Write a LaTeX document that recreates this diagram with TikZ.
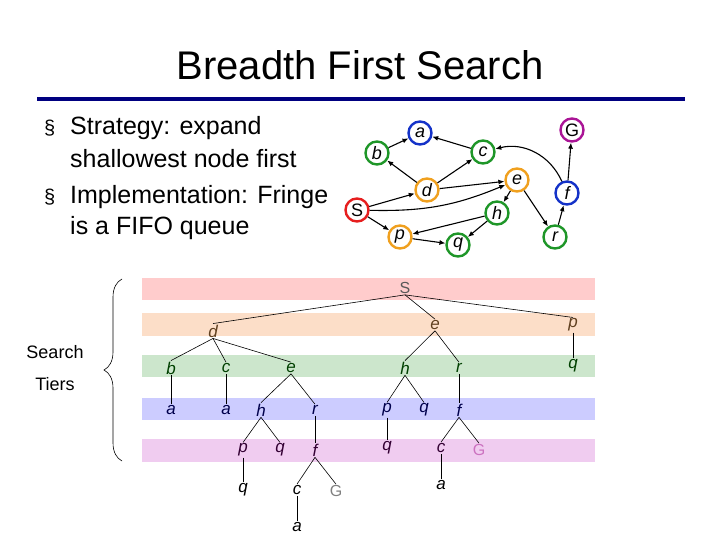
\documentclass[tikz,border=0pt]{standalone}
\usepackage{fontspec}
\setmainfont{Liberation Sans}
\usetikzlibrary{arrows.meta,decorations.pathreplacing}

\definecolor{navy}{RGB}{0,0,128}
\definecolor{gblue}{RGB}{20,50,200}
\definecolor{ggreen}{RGB}{30,150,40}
\definecolor{gorange}{RGB}{240,160,30}
\definecolor{gred}{RGB}{230,30,30}
\definecolor{gmag}{RGB}{170,20,150}
\definecolor{bandS}{RGB}{255,204,204}
\definecolor{bandO}{RGB}{252,222,200}
\definecolor{bandG}{RGB}{204,230,204}
\definecolor{bandB}{RGB}{204,204,255}
\definecolor{bandP}{RGB}{240,204,240}

\begin{document}
\begin{tikzpicture}[
        x=1pt, y=-1pt,
        gnode/.style={circle, draw=#1, line width=2.4pt, fill=white, minimum size=23pt,
            inner sep=0, font=\fontsize{18}{18}\selectfont\itshape},
        garrow/.style={-{Latex[length=6pt,width=5pt]}, line width=1.1pt},
        tnode/.style={inner sep=1pt, font=\fontsize{17}{17}\selectfont\itshape, text=#1},
        tedge/.style={line width=0.6pt},
        band/.style={fill=#1, draw=none}
    ]
    \useasboundingbox (0,0) rectangle (720,540);

    % titel en regel
    \node (title) at (360,65) {\fontsize{40}{40}\selectfont Breadth First Search};
    \fill[navy] (37,97) rectangle (685,101);

    % tekst
    \begin{scope}[every node/.style={anchor=west, inner sep=0, font=\fontsize{25}{25}\selectfont}]
        \node (b1) at (44,128) {\fontsize{20}{20}\selectfont\S};
        \node (l1) at (70,128) {Strategy: expand};
        \node (l2) at (70,159) {shallowest node first};
        \node (b2) at (44,197) {\fontsize{20}{20}\selectfont\S};
        \node (l3) at (70,197) {Implementation: Fringe};
        \node (l4) at (70,228) {is a FIFO queue};
    \end{scope}

    % graaf
    \node[gnode=gblue] (a) at (420,133) {a};
    \node[gnode=ggreen] (b) at (377,153) {b};
    \node[gnode=ggreen] (c) at (483,152) {c};
    \node[gnode=gmag] (G) at (572,130) {\upshape G};
    \node[gnode=gorange] (d) at (427,190) {d};
    \node[gnode=gorange] (e) at (517,180) {e};
    \node[gnode=gblue] (f) at (567,193) {f};
    \node[gnode=gred] (S) at (357,210) {\upshape S};
    \node[gnode=ggreen] (h) at (497,213) {h};
    \node[gnode=gorange] (p) at (400,237) {p};
    \node[gnode=ggreen] (q) at (458,245) {q};
    \node[gnode=ggreen] (r) at (555,237) {r};

    \draw[garrow] (b) -- (a);
    \draw[garrow] (c) -- (a);
    \draw[garrow] (d) -- (b);
    \draw[garrow] (d) -- (c);
    \draw[garrow] (d) -- (e);
    \draw[garrow] (S) -- (d);
    \draw[garrow] (S) to[bend right=12] (e);
    \draw[garrow] (S) -- (p);
    \draw[garrow] (e) -- (h);
    \draw[garrow] (e) -- (r);
    \draw[garrow] (h) -- (p);
    \draw[garrow] (h) -- (q);
    \draw[garrow] (p) -- (q);
    \draw[garrow] (r) -- (f);
    \draw[garrow] (f) -- (G);
    \draw[garrow] (f) to[bend right=40] (c);

    % lagen
    \fill[band=bandS] (142,278) rectangle (595,300);
    \fill[band=bandO] (142,313) rectangle (595,336);
    \fill[band=bandG] (142,355) rectangle (595,377);
    \fill[band=bandB] (142,398) rectangle (595,420);
    \fill[band=bandP] (142,439) rectangle (595,462);

    \node[font=\fontsize{18}{18}\selectfont] (search) at (55,352) {Search};
    \node[font=\fontsize{18}{18}\selectfont] (tiers) at (55,384) {Tiers};
    \draw[decorate, decoration={brace, amplitude=18pt}, line width=0.6pt]
        (122,461) -- (122,279);

    % boom
    \node[tnode=gray!70!black, font=\fontsize{16}{16}\selectfont] (t) at (405,288) {S};
    \node[tnode=brown!50!black] (td) at (213,331) {d};
    \node[tnode=brown!50!black] (te) at (435,325) {e};
    \node[tnode=brown!50!black] (tp) at (573,325) {p};

    \node[tnode=green!25!black] (tdb) at (171,368) {b};
    \node[tnode=green!25!black] (tdc) at (226,368) {c};
    \node[tnode=green!25!black] (tde) at (291,368) {e};
    \node[tnode=green!25!black] (teh) at (405,368) {h};
    \node[tnode=green!25!black] (ter) at (459,368) {r};
    \node[tnode=green!25!black] (tpq) at (573,366) {q};

    \node[tnode=blue!30!black] (tdba) at (171,410) {a};
    \node[tnode=blue!30!black] (tdca) at (226,410) {a};
    \node[tnode=blue!30!black] (tdeh) at (261,410) {h};
    \node[tnode=blue!30!black] (tder) at (315,410) {r};
    \node[tnode=blue!30!black] (tehp) at (387,410) {p};
    \node[tnode=blue!30!black] (tehq) at (424,410) {q};
    \node[tnode=blue!30!black] (terf) at (459,410) {f};

    \node[tnode=violet!40!black] (tdehp) at (243,450) {p};
    \node[tnode=violet!40!black] (tdehq) at (280,450) {q};
    \node[tnode=violet!40!black] (tderf) at (315,450) {f};
    \node[tnode=violet!40!black] (tehpq) at (387,448) {q};
    \node[tnode=violet!40!black] (terfc) at (441,448) {c};
    \node[tnode=gmag!60, font=\fontsize{16}{16}\selectfont] (terfG) at (479,450) {G};

    \node[tnode=black] (tdehpq) at (243,490) {q};
    \node[tnode=black] (tderfc) at (297,490) {c};
    \node[tnode=gray, font=\fontsize{16}{16}\selectfont] (tderfG) at (336,491) {G};
    \node[tnode=black] (terfca) at (441,485) {a};
    \node[tnode=black] (tderfca) at (297,527) {a};

    \foreach \u/\v in {t/td, t/te, t/tp, td/tdb, td/tdc, td/tde, te/teh, te/ter, tp/tpq,
        tdb/tdba, tdc/tdca, tde/tdeh, tde/tder, teh/tehp, teh/tehq, ter/terf,
        tdeh/tdehp, tdeh/tdehq, tder/tderf, tehp/tehpq, terf/terfc, terf/terfG,
        tdehp/tdehpq, tderf/tderfc, tderf/tderfG, terfc/terfca, tderfc/tderfca}
        \draw[tedge] (\u.south) -- (\v.north);
\end{tikzpicture}
\end{document}
